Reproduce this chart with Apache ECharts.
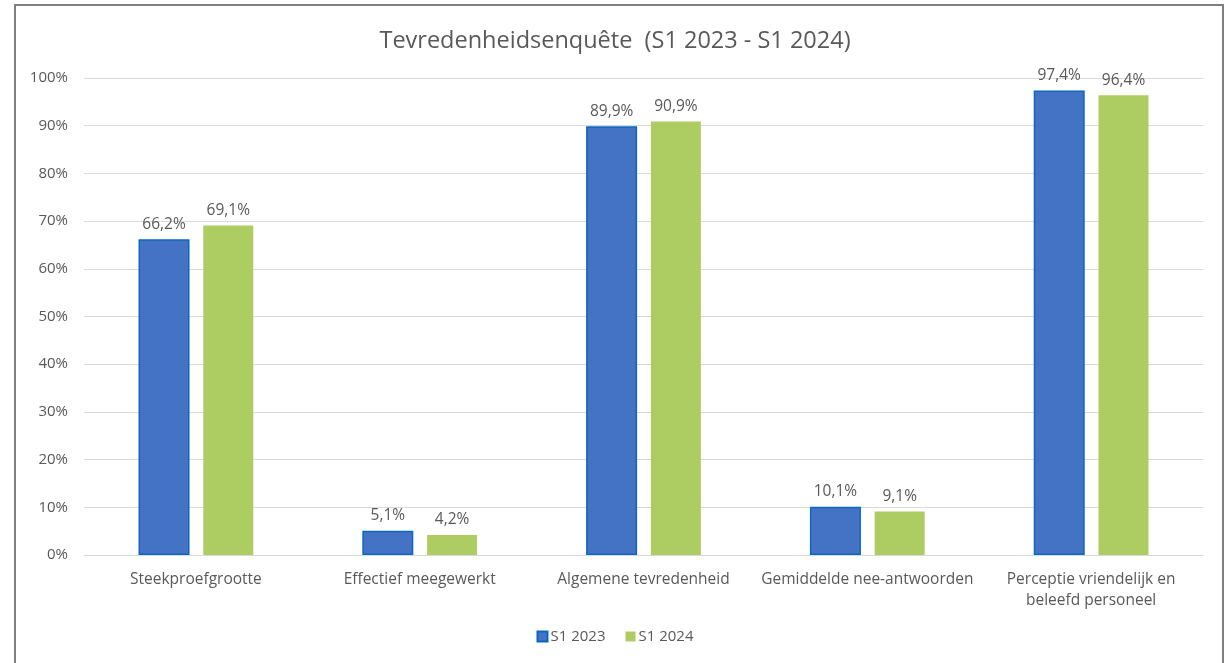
<!DOCTYPE html>
<html>
<head>
<meta charset="utf-8">
<script src="https://cdn.jsdelivr.net/npm/echarts@6/dist/echarts.min.js"></script>
<style>
  html, body { margin: 0; padding: 0; background: #fff; }
  #chart { width: 1230px; height: 663px; }
</style>
</head>
<body>
<div id="chart"></div>
<script>
  // data
  const categories = [
    'Steekproefgrootte',
    'Effectief meegewerkt',
    'Algemene tevredenheid',
    'Gemiddelde nee-antwoorden',
    'Perceptie vriendelijk en\nbeleefd personeel'
  ];
  const seriesNames = ['S1 2023', 'S1 2024'];
  const s2023 = [66.2, 5.1, 89.9, 10.1, 97.4];
  const s2024 = [69.1, 4.2, 90.9, 9.1, 96.4];

  const font = '"Open Sans", Lato, sans-serif';
  const grey = '#595959';

  const chart = echarts.init(document.getElementById('chart'));

  const label = {
    show: true,
    position: 'top',
    distance: 7,
    color: grey,
    fontFamily: font,
    fontSize: 15.5,
    formatter: (p) => p.value.toFixed(1).replace('.', ',') + '%'
  };

  const option = {
    backgroundColor: '#fff',
    animation: false,
    textStyle: { fontFamily: font },
    graphic: [{
      type: 'rect',
      shape: { x: 15, y: 5, width: 1208, height: 680 },
      style: { fill: 'none', stroke: '#7f7f7f', lineWidth: 2 },
      silent: true
    }],
    title: {
      text: 'Tevredenheidsenquête  (S1 2023 - S1 2024)',
      left: 'center',
      top: 24,
      textStyle: { color: grey, fontSize: 23.5, fontWeight: 'normal', fontFamily: font }
    },
    legend: {
      data: seriesNames,
      bottom: 14,
      left: 'center',
      itemWidth: 10,
      itemHeight: 10,
      itemGap: 20,
      icon: 'rect',
      textStyle: { color: grey, fontSize: 15, fontFamily: font, padding: [0, 0, 0, -2] }
    },
    grid: { left: 84, right: 27, top: 78, bottom: 108 },
    xAxis: {
      type: 'category',
      data: categories,
      axisLine: { lineStyle: { color: '#d9d9d9', width: 1 } },
      axisTick: { show: false },
      axisLabel: { color: grey, fontSize: 15.5, fontFamily: font, margin: 14, lineHeight: 21, interval: 0 }
    },
    yAxis: {
      type: 'value',
      min: 0,
      max: 100,
      interval: 10,
      axisLine: { show: false },
      axisTick: { show: false },
      splitLine: { lineStyle: { color: '#d9d9d9', width: 1 } },
      axisLabel: { color: grey, fontSize: 15, fontFamily: font, margin: 16, formatter: '{value}%' }
    },
    series: [
      {
        name: seriesNames[0],
        type: 'bar',
        data: s2023,
        barWidth: 51,
        barGap: '27%',
        itemStyle: { color: '#4472C4', borderColor: '#0B67C0', borderWidth: 1.5 },
        label: label
      },
      {
        name: seriesNames[1],
        type: 'bar',
        data: s2024,
        barWidth: 50,
        itemStyle: { color: '#ADCD62' },
        label: label
      }
    ]
  };

  chart.setOption(option);
</script>
</body>
</html>
